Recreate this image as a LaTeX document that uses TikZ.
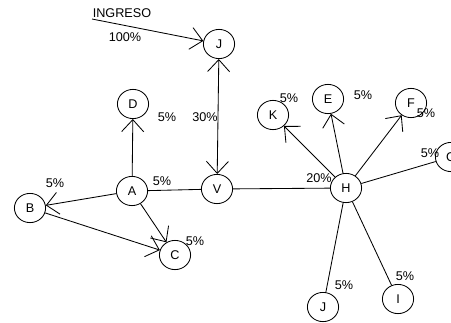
\documentclass[tikz,border=0pt]{standalone}
\usepackage{fontspec}
\setmainfont{Liberation Sans}
\usepackage{tikz}
\usetikzlibrary{positioning,arrows.meta,shapes.geometric}
\tikzset{
  nodo/.style={ellipse, draw, line width=0.6pt, minimum width=0.78cm,
    minimum height=0.73cm, inner sep=0pt, font=\fontsize{9}{10}\selectfont},
  pct/.style={inner sep=1pt, font=\fontsize{9}{10}\selectfont},
  flecha/.style={-{Straight Barb[length=3mm, width=5.5mm]}, line width=0.6pt},
  linea/.style={line width=0.6pt}
}

\begin{document}
\begin{tikzpicture}[x=0.025cm, y=-0.025cm,
      dobleflecha/.style={{Straight Barb[length=3mm, width=5.5mm]}-{Straight Barb[length=3mm, width=5.5mm]}, line width=0.6pt}
    ]
      \useasboundingbox (0,0) rectangle (451,322);
      % nodos
      \node[nodo] (j1) at (219,44) {J};
      \node[nodo] (d) at (133,104) {D};
      \node[nodo] (a) at (132,191) {A};
      \node[nodo] (v) at (217,189) {V};
      \node[nodo] (b) at (30,208) {B};
      \node[nodo] (c) at (175,255) {C};
      \node[nodo] (h) at (346,188) {H};
      \node[nodo] (k) at (273,115) {K};
      \node[nodo] (e) at (328,99) {E};
      \node[nodo] (f) at (411,103) {F};
      \node[nodo] (g) at (451,157) {G};
      \node[nodo] (j2) at (323,307) {J};
      \node[nodo] (i) at (398,299) {I};
      \node[pct] (ing) at (122,13) {INGRESO};
      \coordinate (ing0) at (92,19);
      % conexiones
      \draw[flecha] (ing0) -- (j1);
      \draw[dobleflecha] (j1) -- (v);
      \draw[flecha] (a) -- (d);
      \draw[flecha] (a) -- (b);
      \draw[flecha] (a) -- (c);
      \draw[flecha] (b) -- (c);
      \draw[linea] (a) -- (v);
      \draw[linea] (v) -- (h);
      \draw[flecha] (h) -- (k);
      \draw[flecha] (h) -- (e);
      \draw[flecha] (h) -- (f);
      \draw[linea] (h) -- (g);
      \draw[linea] (h) -- (j2);
      \draw[linea] (h) -- (i);
      % porcentajes
      \node[pct] (p1) at (125,37) {100\%};
      \node[pct] (p2) at (205,117) {30\%};
      \node[pct] (p3) at (167,117) {5\%};
      \node[pct] (p4) at (162,181) {5\%};
      \node[pct] (p5) at (55,183) {5\%};
      \node[pct] (p6) at (195,241) {5\%};
      \node[pct] (p7) at (319,178) {20\%};
      \node[pct] (p8) at (289,98) {5\%};
      \node[pct] (p9) at (363,95) {5\%};
      \node[pct] (p10) at (426,113) {5\%};
      \node[pct] (p11) at (430,153) {5\%};
      \node[pct] (p12) at (344,285) {5\%};
      \node[pct] (p13) at (405,276) {5\%};
    \end{tikzpicture}
\end{document}
